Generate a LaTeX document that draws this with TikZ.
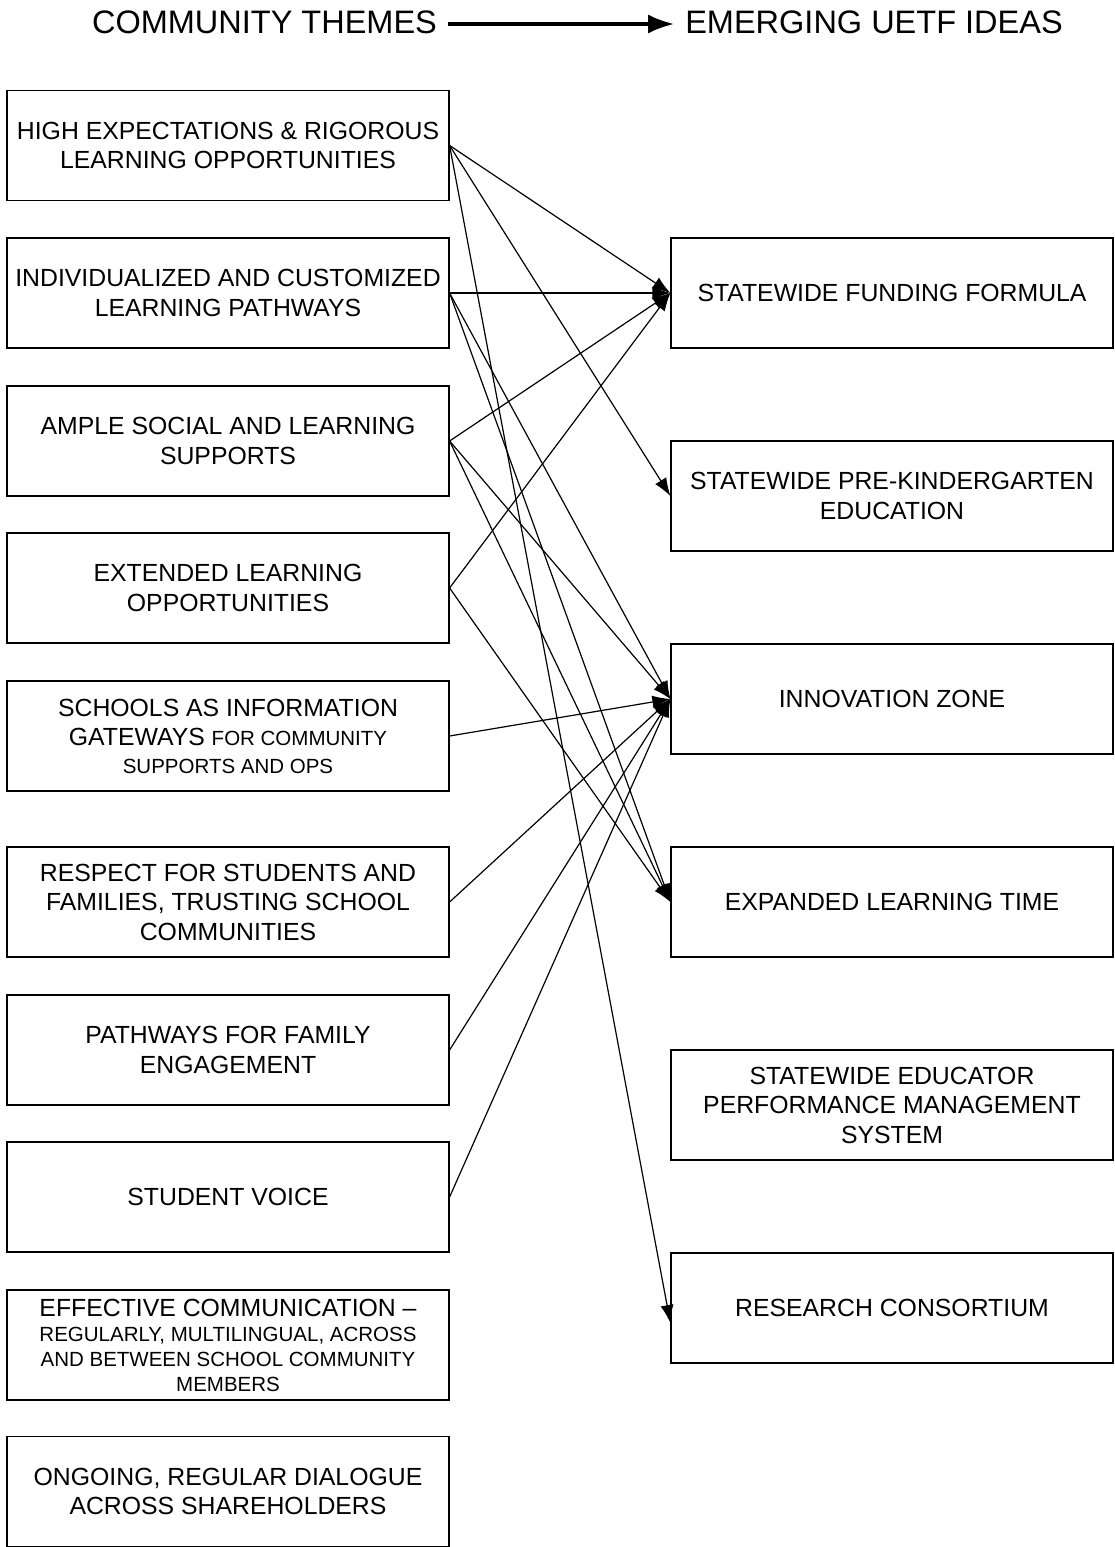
\documentclass[tikz,border=0pt]{standalone}
\usepackage{fontspec}
\setmainfont{Liberation Sans}
\usetikzlibrary{arrows.meta}

\newcommand{\bigtxt}{\fontsize{24.8}{29.5}\selectfont}
\newcommand{\smalltxt}{\fontsize{20.5}{25}\selectfont}

\tikzset{
	theme/.style = {draw, line width=1.2pt, minimum width=442pt, minimum height=110pt, inner sep=0pt, align=center, font=\bigtxt},
	link/.style = {line width=1.2pt, -{Latex[length=18pt,width=13pt]}},
}

\begin{document}
\begin{tikzpicture}[x=1pt, y=-1pt]
	\useasboundingbox (0,0) rectangle (1114,1547);
	\node[font=\fontsize{32.5}{36}\selectfont, inner sep=11pt] (head1) at (264.5,22) {COMMUNITY THEMES};
	\node[font=\fontsize{32.5}{36}\selectfont, inner sep=11pt] (head2) at (874,22) {EMERGING UETF IDEAS};
	\draw[line width=3.2pt, -{Latex[length=26pt,width=19pt]}] ([yshift=-2pt]head1.east) -- ([yshift=-2pt]head2.west);
%
	\node[theme] (t1) at (228,145.5) {HIGH EXPECTATIONS \& RIGOROUS\\LEARNING OPPORTUNITIES};
	\node[theme] (t2) at (228,293) {INDIVIDUALIZED AND CUSTOMIZED\\LEARNING PATHWAYS};
	\node[theme] (t3) at (228,441) {AMPLE SOCIAL AND LEARNING\\SUPPORTS};
	\node[theme] (t4) at (228,588) {EXTENDED LEARNING\\OPPORTUNITIES};
	\node[theme] (t5) at (228,736) {SCHOOLS AS INFORMATION\\GATEWAYS {\smalltxt FOR COMMUNITY}\\[-2pt]{\smalltxt SUPPORTS AND OPS}};
	\node[theme] (t6) at (228,902) {RESPECT FOR STUDENTS AND\\FAMILIES, TRUSTING SCHOOL\\COMMUNITIES};
	\node[theme] (t7) at (228,1050) {PATHWAYS FOR FAMILY\\ENGAGEMENT};
	\node[theme] (t8) at (228,1197) {STUDENT VOICE};
	\node[theme, font=\smalltxt] (t9) at (228,1345) {{\bigtxt EFFECTIVE COMMUNICATION --}\\REGULARLY, MULTILINGUAL, ACROSS\\AND BETWEEN SCHOOL COMMUNITY\\MEMBERS};
	\node[theme] (t10) at (228,1491.5) {ONGOING, REGULAR DIALOGUE\\ACROSS SHAREHOLDERS};
%
	\node[theme] (i1) at (892,293) {STATEWIDE FUNDING FORMULA};
	\node[theme] (i2) at (892,496) {STATEWIDE PRE-KINDERGARTEN\\EDUCATION};
	\node[theme] (i3) at (892,699) {INNOVATION ZONE};
	\node[theme] (i4) at (892,902) {EXPANDED LEARNING TIME};
	\node[theme] (i5) at (892,1105) {STATEWIDE EDUCATOR\\PERFORMANCE MANAGEMENT\\SYSTEM};
	\node[theme] (i6) at (892,1308) {RESEARCH CONSORTIUM};
	\coordinate (i6in) at ([yshift=-15pt]i6.west);
%
	\draw[link] (t1.east) -- (i1.west);
	\draw[link] (t1.east) -- (i2.west);
	\draw[link] (t1.east) -- (i6in);
	\draw[link] (t2.east) -- (i1.west);
	\draw[link] (t2.east) -- (i3.west);
	\draw[link] (t2.east) -- (i4.west);
	\draw[link] (t3.east) -- (i1.west);
	\draw[link] (t3.east) -- (i3.west);
	\draw[link] (t3.east) -- (i4.west);
	\draw[link] (t4.east) -- (i1.west);
	\draw[link] (t4.east) -- (i4.west);
	\draw[link] (t5.east) -- (i3.west);
	\draw[link] (t6.east) -- (i3.west);
	\draw[link] (t7.east) -- (i3.west);
	\draw[link] (t8.east) -- (i3.west);
\end{tikzpicture}
\end{document}
